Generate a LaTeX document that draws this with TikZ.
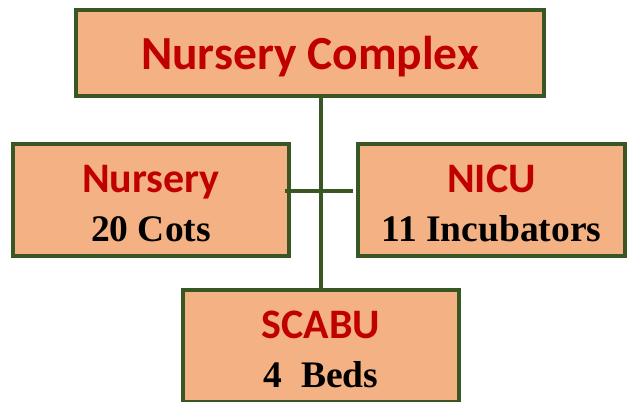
\documentclass[tikz,border=0pt]{standalone}
\usepackage{fontspec}
\setmainfont{Liberation Serif}
\setsansfont{Carlito}
\definecolor{boxfill}{HTML}{F4B183}
\definecolor{boxline}{HTML}{385723}
\definecolor{unitred}{HTML}{C00000}
\tikzset{
    unitbox/.style = {rectangle, draw=boxline, fill=boxfill, line width=3.6pt,
        align=center, inner sep=0pt, text centered,
        font=\bfseries\fontsize{37.5}{49}\selectfont},% box of a unit
    headbox/.style = {unitbox, minimum width=468pt, minimum height=86pt,
        text=unitred, text height=40pt, text depth=6pt,
        font=\sffamily\bfseries\fontsize{47.5}{50}\selectfont},% top box
    wardbox/.style = {unitbox, minimum width=276pt, minimum height=112pt},% lower boxes
    link/.style = {draw=boxline, line width=3.6pt},
}
\newcommand{\unitname}[1]{\rule{0pt}{35pt}{\sffamily\fontsize{42}{49}\selectfont\color{unitred}#1}}

\begin{document}
\begin{tikzpicture}[x=1pt,y=-1pt]
\useasboundingbox (0,0) rectangle (628,401);
\node [headbox] (complex) at (310,53) {Nursery Complex};
\node [wardbox] (nursery) at (151,200) {\unitname{Nursery}\\20 Cots};
\node [wardbox, minimum width=267pt] (nicu) at (491.5,200) {\unitname{NICU}\\11 Incubators};
\node [wardbox] (scabu) at (321,346) {\unitname{SCABU}\\4~~Beds};
\coordinate (hub) at (321,191);
\draw [link] (complex.south -| hub) -- (scabu.north -| hub);
\draw [link] ([xshift=-6pt]nursery.east |- hub) -- ([xshift=-3pt]nicu.west |- hub);
\end{tikzpicture}
\end{document}
